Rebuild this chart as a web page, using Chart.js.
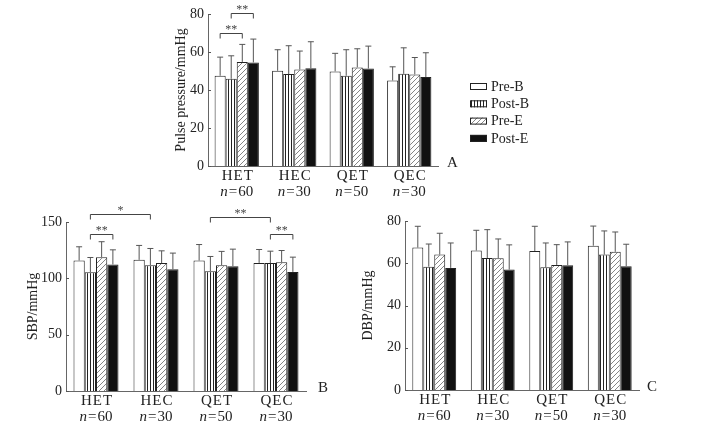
<!DOCTYPE html>
<html>
<head>
<meta charset="utf-8">
<script src="https://cdn.jsdelivr.net/npm/chart.js@4.4.1/dist/chart.umd.min.js"></script>
<style>
  body { margin: 0; background: #fff; }
  #wrap { position: relative; width: 702px; height: 432px; }
  canvas { position: absolute; left: 0; top: 0; }
</style>
</head>
<body>
<div id="wrap">
  <canvas id="cA" width="702" height="432"></canvas>
  <canvas id="cB" width="702" height="432"></canvas>
  <canvas id="cC" width="702" height="432"></canvas>
</div>
<script>
// categories and series
const groups = ['HET', 'HEC', 'QET', 'QEC'];
const groupN = ['60', '30', '50', '30'];
const seriesNames = ['Pre-B', 'Post-B', 'Pre-E', 'Post-E'];

// A: pulse pressure, mmHg (mean, sd)
const ppPreB  = [47.5, 50.1, 49.8, 45.0];
const ppPostB = [45.9, 48.4, 47.5, 48.5];
const ppPreE  = [54.8, 50.8, 51.9, 48.2];
const ppPostE = [54.5, 51.5, 51.3, 46.8];
const ppPreBsd  = [9.8, 11.1, 9.5, 7.2];
const ppPostBsd = [12.1, 14.9, 13.7, 13.7];
const ppPreEsd  = [9.2, 9.7, 9.8, 8.9];
const ppPostEsd = [12.3, 13.9, 11.8, 12.8];

// B: SBP, mmHg
const sbpPreB  = [115.8, 116.4, 115.8, 113.7];
const sbpPostB = [105.4, 111.7, 106.3, 113.5];
const sbpPreE  = [118.8, 113.5, 111.7, 114.3];
const sbpPostE = [112.3, 108.1, 110.8, 105.7];
const sbpPreBsd  = [12.2, 12.8, 14.2, 11.9];
const sbpPostBsd = [13.1, 14.8, 13.1, 10.6];
const sbpPreEsd  = [13.7, 10.9, 12.2, 10.4];
const sbpPostEsd = [13.0, 14.3, 15.1, 13.1];

// C: DBP, mmHg
const dbpPreB  = [67.4, 66.0, 65.8, 68.3];
const dbpPostB = [58.4, 62.5, 58.1, 64.1];
const dbpPreE  = [64.1, 62.4, 59.2, 65.4];
const dbpPostE = [57.8, 57.0, 59.1, 58.6];
const dbpPreBsd  = [10.1, 9.6, 11.7, 9.3];
const dbpPostBsd = [10.7, 13.4, 11.5, 11.2];
const dbpPreEsd  = [10.1, 9.1, 9.6, 9.4];
const dbpPostEsd = [11.8, 11.7, 11.0, 10.4];

// significance brackets: [series, group] -> [series, group], level, mark
const ppBrackets = [
  [0, 0, 2, 0, 69.8, '**'],
  [1, 0, 3, 0, 80.4, '**']
];
const sbpBrackets = [
  [1, 0, 1, 1, 157.0, '*'],
  [1, 0, 3, 0, 139.3, '**'],
  [1, 2, 1, 3, 154.4, '**'],
  [1, 3, 3, 3, 139.3, '**']
];

const SERIF = '"Liberation Serif", "DejaVu Serif", serif';

function makeFills(ctx) {
  const s = document.createElement('canvas');
  s.width = 3; s.height = 3;
  const sx = s.getContext('2d');
  sx.fillStyle = '#fff'; sx.fillRect(0, 0, 3, 3);
  sx.fillStyle = '#222'; sx.fillRect(0, 0, 1, 3);

  const h = document.createElement('canvas');
  h.width = 5; h.height = 5;
  const hx = h.getContext('2d');
  hx.fillStyle = '#fff'; hx.fillRect(0, 0, 5, 5);
  hx.strokeStyle = '#777'; hx.lineWidth = 0.9;
  hx.beginPath();
  hx.moveTo(0, 5); hx.lineTo(5, 0);
  hx.moveTo(-1, 1); hx.lineTo(1, -1);
  hx.moveTo(4, 6); hx.lineTo(6, 4);
  hx.stroke();

  return ['#fff', ctx.createPattern(s, 'repeat'), ctx.createPattern(h, 'repeat'), '#111'];
}

function line(ctx, x1, y1, x2, y2) {
  ctx.beginPath();
  ctx.moveTo(x1, y1);
  ctx.lineTo(x2, y2);
  ctx.stroke();
}

const extras = {
  id: 'extras',
  afterDraw(chart, args, o) {
    const ctx = chart.ctx;
    const ca = chart.chartArea;
    const ys = chart.scales.y, xs = chart.scales.x;
    ctx.save();

    // inward tick marks
    ctx.strokeStyle = '#555';
    ctx.lineWidth = 1;
    ys.ticks.forEach(t => {
      const py = Math.round(ys.getPixelForValue(t.value)) + 0.5;
      line(ctx, ca.left, py, ca.left + 3, py);
    });

    // error bars (upper only)
    o.sd.forEach((arr, s) => {
      const meta = chart.getDatasetMeta(s);
      arr.forEach((v, g) => {
        const b = meta.data[g];
        const top = ys.getPixelForValue(chart.data.datasets[s].data[g] + v);
        line(ctx, b.x, b.y, b.x, top);
        line(ctx, b.x - 3, top, b.x + 3, top);
      });
    });

    // brackets
    (o.brackets || []).forEach(br => {
      const x1 = chart.getDatasetMeta(br[0]).data[br[1]].x;
      const x2 = chart.getDatasetMeta(br[2]).data[br[3]].x;
      const py = Math.round(ys.getPixelForValue(br[4])) + 0.5;
      ctx.strokeStyle = '#444';
      ctx.beginPath();
      ctx.moveTo(x1, py + 5); ctx.lineTo(x1, py); ctx.lineTo(x2, py); ctx.lineTo(x2, py + 5);
      ctx.stroke();
      ctx.fillStyle = '#444';
      ctx.font = '12px ' + SERIF;
      ctx.textAlign = 'center';
      ctx.textBaseline = 'alphabetic';
      ctx.fillText(br[5], (x1 + x2) / 2, py - 1);
    });

    // category labels
    ctx.fillStyle = '#222';
    ctx.textBaseline = 'middle';
    groups.forEach((name, g) => {
      const cx = xs.getPixelForValue(g);
      ctx.font = '15px ' + SERIF;
      ctx.textAlign = 'center';
      ctx.letterSpacing = '1px';
      ctx.fillText(name, cx + 1, ca.bottom + 10);
      ctx.letterSpacing = '0px';
      ctx.textAlign = 'left';
      ctx.font = 'italic 15px ' + SERIF;
      const wn = ctx.measureText('n').width;
      ctx.font = '15px ' + SERIF;
      const we = ctx.measureText('=').width;
      const wd = ctx.measureText(groupN[g]).width;
      let px = cx - (wn + we + wd + 2) / 2;
      ctx.font = 'italic 15px ' + SERIF;
      ctx.fillText('n', px, ca.bottom + 26);
      px += wn + 1;
      ctx.font = '15px ' + SERIF;
      ctx.fillText('=', px, ca.bottom + 26);
      px += we + 1;
      ctx.fillText(groupN[g], px, ca.bottom + 26);
    });

    // panel letter
    ctx.font = '15px ' + SERIF;
    ctx.textAlign = 'left';
    ctx.fillText(o.letter, ca.right + o.letterDx, ca.bottom - 3);

    // y title
    ctx.save();
    ctx.translate(o.titleX, (ca.top + ca.bottom) / 2);
    ctx.rotate(-Math.PI / 2);
    ctx.textAlign = 'center';
    ctx.font = '14px ' + SERIF;
    ctx.fillText(o.title, 0, 0);
    ctx.restore();

    // legend
    if (o.legend) {
      const fills = chart.data.datasets.map(d => d.backgroundColor);
      seriesNames.forEach((nm, i) => {
        const ly = 86 + i * 17.3;
        ctx.fillStyle = fills[i];
        ctx.fillRect(470, ly - 3, 17, 7);
        ctx.strokeStyle = '#222';
        ctx.strokeRect(470.5, ly - 2.5, 16, 6);
        ctx.fillStyle = '#222';
        ctx.font = '14px ' + SERIF;
        ctx.textBaseline = 'middle';
        ctx.fillText(nm, 491, ly + 1);
      });
    }
    ctx.restore();
  }
};

function makeChart(id, means, sds, p) {
  const ctx = document.getElementById(id).getContext('2d');
  const fills = makeFills(ctx);
  return new Chart(ctx, {
    type: 'bar',
    data: {
      labels: groups,
      datasets: seriesNames.map((nm, i) => ({
        label: nm,
        data: means[i],
        backgroundColor: fills[i],
        borderColor: '#222',
        borderWidth: 1,
        categoryPercentage: p.cat,
        barPercentage: 1
      }))
    },
    options: {
      responsive: false,
      animation: false,
      layout: { padding: { left: p.axisX - p.w, top: p.top, right: 702 - p.endX, bottom: 432 - p.zero - 30 } },
      plugins: {
        legend: { display: false },
        tooltip: { enabled: false },
        extras: { sd: sds, brackets: p.brackets, letter: p.letter, letterDx: p.letterDx,
                  title: p.title, titleX: p.titleX, legend: p.legend }
      },
      scales: {
        x: {
          ticks: { display: false },
          grid: { display: false, drawTicks: false },
          border: { color: '#666', width: 1 },
          afterFit(s) { s.height = 30; }
        },
        y: {
          min: 0,
          max: p.max,
          ticks: { stepSize: p.step, font: { family: SERIF, size: 14 }, color: '#222', padding: 4 },
          grid: { display: false, drawTicks: false },
          border: { color: '#666', width: 1 },
          afterFit(s) { s.width = p.w; }
        }
      }
    },
    plugins: [extras]
  });
}

makeChart('cA',
  [ppPreB, ppPostB, ppPreE, ppPostE],
  [ppPreBsd, ppPostBsd, ppPreEsd, ppPostEsd],
  { axisX: 208, w: 40, top: 14, endX: 438, zero: 166, max: 80, step: 20, cat: 0.77,
    brackets: ppBrackets, letter: 'A', letterDx: 9, title: 'Pulse pressure/mmHg', titleX: 181, legend: true });

makeChart('cB',
  [sbpPreB, sbpPostB, sbpPreE, sbpPostE],
  [sbpPreBsd, sbpPostBsd, sbpPreEsd, sbpPostEsd],
  { axisX: 66, w: 45, top: 222, endX: 306, zero: 391, max: 150, step: 50, cat: 0.75,
    brackets: sbpBrackets, letter: 'B', letterDx: 12, title: 'SBP/mmHg', titleX: 33, legend: false });

makeChart('cC',
  [dbpPreB, dbpPostB, dbpPreE, dbpPostE],
  [dbpPreBsd, dbpPostBsd, dbpPreEsd, dbpPostEsd],
  { axisX: 405, w: 49, top: 221, endX: 639, zero: 390, max: 80, step: 20, cat: 0.75,
    brackets: [], letter: 'C', letterDx: 8, title: 'DBP/mmHg', titleX: 368, legend: false });
</script>
</body>
</html>
